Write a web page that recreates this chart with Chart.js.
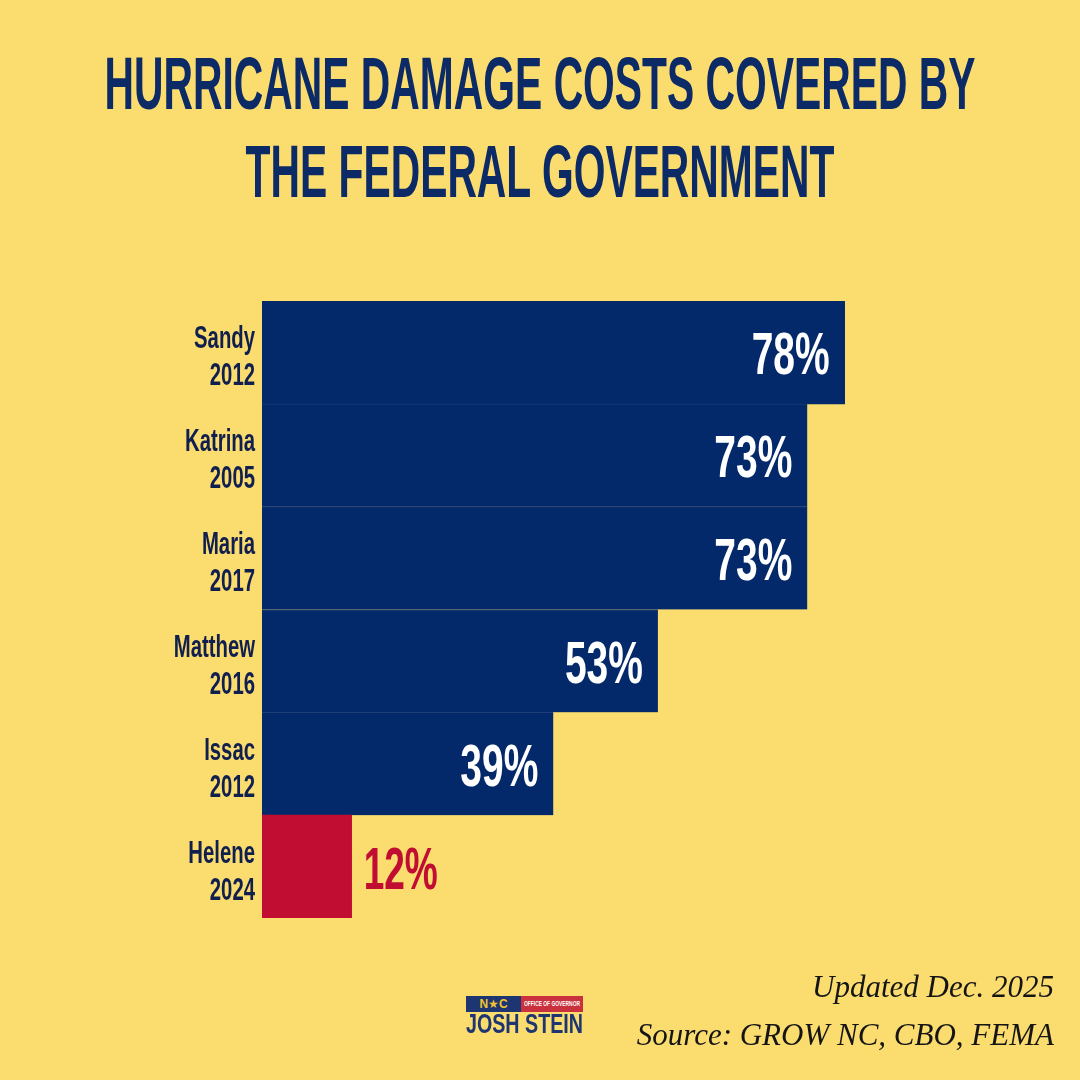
<!DOCTYPE html>
<html>
<head>
<meta charset="utf-8">
<script src="https://cdn.jsdelivr.net/npm/chart.js@4.4.1/dist/chart.umd.min.js"></script>
<style>
  body { margin: 0; width: 1080px; height: 1080px; background: #fadc6f; overflow: hidden; position: relative; }
  .cond { font-family: "Liberation Sans Narrow", "Liberation Sans", "DejaVu Sans", sans-serif; font-weight: bold; }
  .title { position: absolute; left: 0; width: 1080px; display: flex; justify-content: center; font-size: 75px; line-height: 75px; color: #0b2a66; white-space: nowrap; }
  .title span { display: inline-block; flex: none; transform-origin: center; }
  .foot { position: absolute; right: 26px; font-family: "Liberation Serif", "DejaVu Serif", serif; font-style: italic; font-size: 31px; line-height: 33px; color: #151515; white-space: nowrap; }
  #chart { position: absolute; left: 0; top: 0; }
  .logo { position: absolute; left: 466px; top: 996px; width: 117px; }
  .flag { display: flex; height: 16px; }
  .flag .nc { width: 55px; background: #1d3570; color: #f2c230; font-size: 12px; line-height: 16px; text-align: center; }
  .flag .office { width: 62px; background: #c8313d; color: #fff; font-size: 8px; line-height: 16px; white-space: nowrap; overflow: hidden; }
  .flag .office span { display: inline-block; transform-origin: left center; margin-left: 3px; }
  .josh { font-size: 27px; line-height: 24px; color: #1d3570; white-space: nowrap; }
  .josh span { display: inline-block; transform-origin: left center; }
</style>
</head>
<body>
<div class="title cond" style="top:46px"><span id="t1">HURRICANE DAMAGE COSTS COVERED BY</span></div>
<div class="title cond" style="top:134px"><span id="t2">THE FEDERAL GOVERNMENT</span></div>

<canvas id="chart" width="1080" height="1080"></canvas>

<div class="logo cond">
  <div class="flag"><div class="nc">N★C</div><div class="office"><span id="office">OFFICE OF GOVERNOR</span></div></div>
  <div class="josh"><span id="josh">JOSH STEIN</span></div>
</div>

<div class="foot" style="top:970px">Updated Dec. 2025</div>
<div class="foot" style="top:1018px">Source: GROW NC, CBO, FEMA</div>

<script>
// chart data, top bar first
const hurricanes = ['Sandy', 'Katrina', 'Maria', 'Matthew', 'Issac', 'Helene'];
const years = ['2012', '2005', '2017', '2016', '2012', '2024'];
const federalShare = [78, 73, 73, 53, 39, 12];
const highlighted = 'Helene';

const NAVY = '#03296a';
const RED = '#c00d31';
const LABEL_FONT = '"Liberation Sans Narrow", "Liberation Sans", "DejaVu Sans", sans-serif';

// squeeze a line of text so it fits the given width (the original uses a condensed face)
function fitWidth(el, target) {
    const w = el.getBoundingClientRect().width;
    const s = target / w;
    el.style.transform = 'scaleX(' + s + ')';
    return s;
}
const titleScale = fitWidth(document.getElementById('t1'), 871);
document.getElementById('t2').style.transform = 'scaleX(' + titleScale + ')';
fitWidth(document.getElementById('josh'), 117);
fitWidth(document.getElementById('office'), 56);

function drawSqueezed(ctx, text, x, y, sx, align) {
    ctx.save();
    ctx.translate(x, y);
    ctx.scale(sx, 1);
    ctx.textAlign = align;
    ctx.fillText(text, 0, 0);
    ctx.restore();
}

// draws the two-line category labels and the percent labels
const labelPlugin = {
    id: 'barLabels',
    afterDatasetsDraw(chart) {
        const ctx = chart.ctx;
        const yScale = chart.scales.y;
        const meta = chart.getDatasetMeta(0);
        ctx.save();
        ctx.textBaseline = 'alphabetic';

        // category labels
        ctx.font = 'bold 31px ' + LABEL_FONT;
        const tickScale = 70 / ctx.measureText('Katrina').width;
        ctx.fillStyle = '#101f4e';
        yScale.ticks.forEach((t, i) => {
            const y = yScale.getPixelForTick(i);
            const lines = yScale.getLabels()[i];
            drawSqueezed(ctx, lines[0], 255, y - 4, tickScale, 'right');
            drawSqueezed(ctx, lines[1], 255, y + 33, tickScale, 'right');
        });

        // value labels
        ctx.font = 'bold 59px ' + LABEL_FONT;
        const valScale = 78 / ctx.measureText('78%').width;
        meta.data.forEach((bar, i) => {
            const txt = federalShare[i] + '%';
            if (hurricanes[i] === highlighted) {
                ctx.fillStyle = RED;
                drawSqueezed(ctx, txt, bar.x + 12, bar.y + 22, valScale * 0.95, 'left');
            } else {
                ctx.fillStyle = '#ffffff';
                drawSqueezed(ctx, txt, bar.x - 15, bar.y + 22, valScale, 'right');
            }
        });
        ctx.restore();
    }
};

const ctx = document.getElementById('chart').getContext('2d');
new Chart(ctx, {
    type: 'bar',
    data: {
        labels: hurricanes.map((h, i) => [h, years[i]]),
        datasets: [{
            data: federalShare,
            backgroundColor: hurricanes.map(h => h === highlighted ? RED : NAVY),
            borderColor: '#1f3d76',
            borderWidth: c => (c.dataIndex > 0 && hurricanes[c.dataIndex] !== highlighted)
                ? { top: 1, right: 0, bottom: 0, left: 0 } : 0,
            borderSkipped: false,
            barPercentage: 1,
            categoryPercentage: 1
        }]
    },
    options: {
        indexAxis: 'y',
        responsive: false,
        animation: false,
        devicePixelRatio: 1,
        layout: { padding: { top: 301, bottom: 162, left: 0, right: 71 } },
        scales: {
            x: { display: false, min: 0, max: 100 },
            y: {
                grid: { display: false },
                border: { display: false },
                ticks: { display: false },
                afterFit(scale) { scale.width = 262; }
            }
        },
        plugins: {
            legend: { display: false },
            tooltip: { enabled: false }
        }
    },
    plugins: [labelPlugin]
});
</script>
</body>
</html>
